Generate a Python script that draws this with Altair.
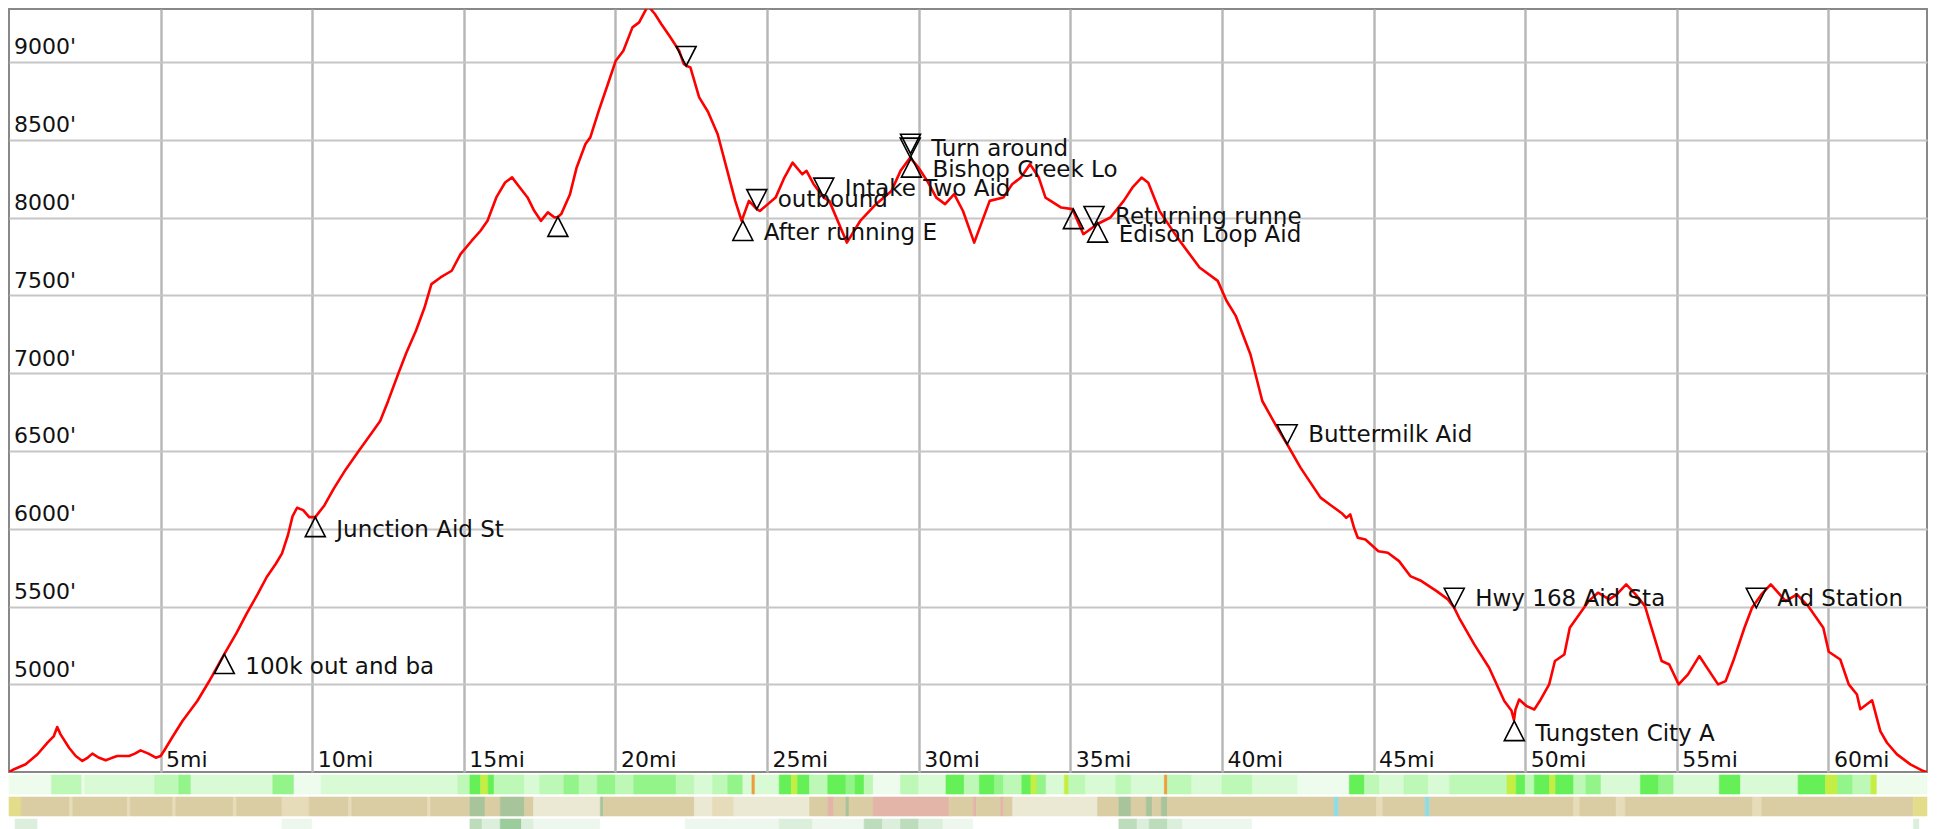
import altair as alt
import pandas as pd

# ---------------- data ----------------
profile_mi = [
    0.0, 0.17, 0.55, 0.94, 1.27, 1.48, 1.59, 1.70, 1.98, 2.20,
    2.42, 2.60, 2.75, 2.95, 3.19, 3.40, 3.57, 3.96, 4.15, 4.34,
    4.60, 4.84, 5.00, 5.11, 5.40, 5.72, 6.21, 6.60, 7.10, 7.50,
    7.85, 8.20, 8.50, 8.80, 9.00, 9.20, 9.35, 9.50, 9.70, 9.90,
    10.10, 10.40, 10.71, 11.10, 11.52, 11.90, 12.24, 12.50, 12.83, 13.10,
    13.42, 13.70, 13.93, 14.23, 14.60, 14.89, 15.26, 15.55, 15.78, 16.07,
    16.36, 16.59, 16.80, 17.10, 17.32, 17.54, 17.77, 17.99, 18.10, 18.21,
    18.50, 18.72, 19.01, 19.17, 19.45, 19.75, 20.01, 20.26, 20.56, 20.78,
    21.07, 21.30, 21.51, 21.81, 22.10, 22.25, 22.35, 22.47, 22.76, 23.05,
    23.37, 23.66, 23.95, 24.16, 24.40, 24.66, 24.76, 25.28, 25.57, 25.84,
    26.16, 26.30, 26.53, 26.87, 27.05, 27.63, 28.07, 28.59, 29.10, 29.40,
    29.72, 29.99, 30.28, 30.58, 30.87, 31.17, 31.46, 31.83, 32.34, 32.79,
    33.08, 33.37, 33.67, 33.96, 34.18, 34.70, 35.07, 35.43, 35.88, 36.32,
    36.76, 37.05, 37.35, 37.57, 37.94, 38.53, 39.26, 39.86, 40.15, 40.45,
    40.94, 41.33, 41.82, 42.15, 42.59, 43.25, 43.60, 43.95, 44.10, 44.23,
    44.35, 44.48, 44.73, 45.16, 45.47, 45.84, 46.21, 46.58, 47.08, 47.45,
    47.66, 47.82, 48.32, 48.81, 49.31, 49.55, 49.63, 49.68, 49.80, 50.05,
    50.30, 50.48, 50.79, 50.98, 51.29, 51.47, 51.78, 52.09, 52.40, 52.77,
    53.02, 53.33, 53.64, 53.95, 54.13, 54.50, 54.75, 55.06, 55.37, 55.74,
    56.36, 56.61, 56.86, 57.23, 57.48, 57.79, 58.10, 58.59, 58.96, 59.33,
    59.83, 60.01, 60.39, 60.67, 60.94, 61.05, 61.44, 61.71, 61.93, 62.26,
    62.70, 63.13, 63.25,
]
profile_ft = [
    4437, 4455, 4487, 4551, 4626, 4668, 4726, 4679, 4593, 4540,
    4508, 4530, 4555, 4530, 4512, 4528, 4540, 4540, 4555, 4576,
    4555, 4529, 4540, 4572, 4665, 4765, 4893, 5020, 5195, 5330,
    5460, 5580, 5690, 5775, 5840, 5960, 6080, 6135, 6120, 6075,
    6075, 6150, 6258, 6380, 6496, 6600, 6693, 6820, 6993, 7130,
    7272, 7420, 7572, 7615, 7658, 7765, 7851, 7915, 7979, 8129,
    8225, 8258, 8204, 8129, 8043, 7979, 8033, 8000, 8004, 8022,
    8150, 8322, 8472, 8515, 8687, 8858, 9008, 9072, 9222, 9254,
    9361, 9308, 9244, 9158, 9072, 8987, 8974, 8965, 8772, 8680,
    8535, 8321, 8107, 7978, 8107, 8054, 8042, 8128, 8257, 8353,
    8278, 8300, 8216, 8128, 8107, 7839, 7978, 8086, 8171, 8300,
    8385, 8321, 8235, 8128, 8086, 8150, 8042, 7839, 8107, 8128,
    8214, 8257, 8343, 8257, 8128, 8064, 8054, 7893, 7957, 8000,
    8107, 8193, 8257, 8224, 8042, 7871, 7679, 7593, 7465, 7370,
    7120, 6821, 6650, 6543, 6393, 6200, 6150, 6100, 6070, 6092,
    6010, 5942, 5931, 5856, 5846, 5792, 5696, 5664, 5599, 5546,
    5492, 5428, 5257, 5107, 4893, 4830, 4770, 4839, 4903, 4860,
    4839, 4893, 5000, 5150, 5192, 5364, 5449, 5535, 5589, 5546,
    5578, 5642, 5578, 5503, 5385, 5150, 5128, 5000, 5064, 5182,
    5000, 5021, 5150, 5364, 5492, 5578, 5642, 5535, 5578, 5503,
    5364, 5210, 5160, 5000, 4935, 4840, 4898, 4700, 4625, 4550,
    4486, 4443, 4437,
]

marker_mi = [7.10, 10.10, 18.10, 24.20, 29.76, 35.10, 35.90, 49.64,
             22.33, 24.66, 26.87, 29.72, 29.73, 35.78, 42.15, 47.66, 57.62]
marker_ft = [5195, 6075, 8004, 7978, 8385, 8054, 7967, 4764,
             8974, 8054, 8128, 8385, 8410, 7946, 6543, 5492, 5492]
marker_dir = ["up"] * 8 + ["down"] * 9
marker_label = ["100k out and ba", "Junction Aid St", "", "After running E",
                "Bishop Creek Lo", "", "Edison Loop Aid", "Tungsten City A",
                "", "outbound", "Intake Two Aid", "Turn around", "",
                "Returning runne", "Buttermilk Aid", "Hwy 168 Aid Sta", "Aid Station"]

x_ticks = [5, 10, 15, 20, 25, 30, 35, 40, 45, 50, 55, 60]
y_ticks = [5000, 5500, 6000, 6500, 7000, 7500, 8000, 8500, 9000]

# strip 1: grade intensity
strip1_edges = [0, 1.4, 2.4, 2.5, 4.8, 5.6, 6.0, 8.7, 9.4, 10.3, 14.8, 15.2, 15.55, 15.8,
                16.0, 17.0, 17.5, 18.3, 18.8, 19.4, 20.0, 20.6, 22.0, 22.6, 23.2, 23.7, 24.2,
                24.5, 24.6, 25.4, 25.8, 26.0, 26.4, 27.0, 27.6, 27.9, 28.2, 28.5, 29.4,
                30.0, 30.9, 31.5, 32.0, 32.5, 32.8, 33.4, 33.7, 33.9, 34.2, 34.8, 34.95,
                35.5, 36.5, 37.0, 38.1, 38.2, 39.0, 40.0, 41.0, 42.5, 44.2, 44.7, 45.2,
                46.0, 46.8, 47.5, 49.4, 49.7, 50.0, 50.3, 50.8, 51.0, 51.6, 52.0, 52.5,
                53.8, 54.4, 54.9, 56.4, 57.1, 59.0, 59.9, 60.3, 60.8, 61.4, 61.6, 63.25]
strip1_codes = [0, 2, 0, 1, 2, 3, 1, 3, 0, 1, 2, 4, 5, 4, 2,
                1,
                2, 3, 2, 3, 2, 3, 2, 1, 2, 3,
                1, 6, 1, 4, 5, 4, 2, 4, 3, 4,
                2, 0, 2, 1, 4, 2, 4, 3, 2, 4,
                5, 3, 1, 5, 2, 1, 2, 1, 6, 2,
                1, 2, 1, 0, 4, 2, 1, 2, 1, 2,
                5, 4, 2, 4, 5, 4, 2, 3, 1, 4,
                3, 1, 4, 1, 4, 5, 3, 2, 5, 0]
strip1_domain = [0, 1, 2, 3, 4, 5, 6]
strip1_colors = ["#edfcec", "#d8fad4", "#bdf8b6", "#93f48a", "#66f057", "#c5ee45", "#ee9d3c"]

# strip 2: surface
strip2_edges = [0, 0.4, 2.0, 2.1, 3.9, 4.0, 5.4, 5.5, 7.4, 7.5, 9.0, 9.9, 11.2, 11.3, 13.8,
                13.9, 15.2, 15.7, 16.2, 17.0, 17.3, 19.5, 19.6, 22.6, 23.2, 23.9, 26.4, 27.0,
                27.2, 27.6, 27.7, 28.5, 31.0, 31.8, 31.9, 32.7, 32.8, 33.1, 35.9, 36.6, 37.0,
                37.5, 37.7, 38.0, 38.2, 43.7, 43.85, 45.1, 45.3, 46.7, 46.85, 51.6, 51.8,
                53.0, 53.3, 57.5, 57.8, 62.8, 63.25]
strip2_codes = ["sand", "trail", "light", "trail", "light", "trail", "light", "trail", "light", "trail",
                "light", "trail", "light", "trail", "light", "trail", "forest", "trail", "forest", "trail",
                "road", "forest", "trail", "road", "light", "road", "trail", "rock", "trail", "forest",
                "trail", "rock", "trail", "rock", "trail", "rock", "trail", "road", "trail", "forest",
                "trail", "forest", "trail", "forest", "trail", "water", "trail", "light", "trail", "water",
                "trail", "light", "trail", "light", "trail", "light", "trail", "sand"]
strip2_domain = ["trail", "light", "road", "rock", "forest", "water", "sand"]
strip2_colors = ["#dbcda3", "#e6dcb9", "#ebe8d4", "#e2b5a8", "#a8c49a", "#90dce6", "#e3dc8a"]

# strip 3: vegetation
strip3_edges = [0, 0.2, 0.95, 9.0, 10.0, 15.2, 15.6, 16.2, 16.9, 17.3, 19.5, 22.3, 25.4, 26.5,
                28.2, 28.8, 29.4, 30.0, 30.8, 31.8, 36.6, 37.2, 37.6, 38.2, 38.7, 41.0, 62.8,
                63.0, 63.25]
strip3_codes = [0, 2, 0, 1, 0, 3, 2, 4, 2, 1,
                0, 1, 2, 1, 3, 2, 3, 2, 1, 0,
                3, 2, 3, 2, 1, 0, 2, 0]
strip3_domain = [0, 1, 2, 3, 4]
strip3_colors = ["#ffffff", "#eef7ee", "#dcefdc", "#bcdcbc", "#9ccc9c"]

# ---------------- chart ----------------
X_DOMAIN = [0, 63.25]
Y_DOMAIN = [4437, 9340]
W = 1918
H = 763
SH = 19
FONT = "DejaVu Sans"

prof = pd.DataFrame({"mi": profile_mi, "ft": profile_ft})
marks = pd.DataFrame({"mi": marker_mi, "ft": marker_ft, "dir": marker_dir, "label": marker_label})

xs = alt.Scale(domain=X_DOMAIN, nice=False, zero=False)
ys = alt.Scale(domain=Y_DOMAIN, nice=False, zero=False)

x_axis = alt.Axis(values=x_ticks, labelExpr="datum.value + 'mi'", grid=True,
                  gridColor="#b8b8b8", gridWidth=2.5, gridOpacity=1, ticks=False, tickSize=0,
                  domain=False, labelAlign="left", labelBaseline="alphabetic",
                  labelPadding=-6, labelOffset=5, labelFont=FONT, labelFontSize=22,
                  labelColor="#111111", labelFlush=False, labelOverlap=False, title=None)
y_axis = alt.Axis(values=y_ticks, labelExpr="datum.value + \"'\"", grid=True,
                  gridColor="#c6c6c6", gridWidth=2, gridOpacity=1, ticks=False, tickSize=0,
                  domain=False, labelAlign="left", labelBaseline="alphabetic",
                  labelPadding=-4.5, labelOffset=-8, labelFont=FONT, labelFontSize=22,
                  labelColor="#111111", labelFlush=False, labelOverlap=False, title=None)

X = alt.X("mi:Q", scale=xs, axis=x_axis)
Y = alt.Y("ft:Q", scale=ys, axis=y_axis)

line = alt.Chart(prof).mark_line(color="#ff0000", strokeWidth=2.6, clip=True,
                                 strokeJoin="round").encode(x=X, y=Y)

up_pts = alt.Chart(marks).transform_filter("datum.dir == 'up'").mark_point(
    shape="M0,-0.975L1,0.975L-1,0.975Z", size=400, filled=False, color="black",
    strokeWidth=1.6, opacity=1, yOffset=9.75).encode(x=X, y=Y)
down_pts = alt.Chart(marks).transform_filter("datum.dir == 'down'").mark_point(
    shape="M-1,-0.975L1,-0.975L0,0.975Z", size=400, filled=False, color="black",
    strokeWidth=1.6, opacity=1, yOffset=-9.75).encode(x=X, y=Y)

up_txt = alt.Chart(marks).transform_filter("datum.dir == 'up'").mark_text(
    align="left", baseline="alphabetic", dx=21, dy=19.5, font=FONT, fontSize=23,
    color="#111111").encode(x=X, y=Y, text="label:N")
down_txt = alt.Chart(marks).transform_filter("datum.dir == 'down'").mark_text(
    align="left", baseline="alphabetic", dx=21, dy=-2, font=FONT, fontSize=23,
    color="#111111").encode(x=X, y=Y, text="label:N")

main = alt.layer(line, up_pts, down_pts, up_txt, down_txt).properties(
    width=W, height=H, view=alt.ViewBackground(stroke="#888888", strokeWidth=2))


def strip(edges, codes, domain, colors):
    df = pd.DataFrame({"start": edges[:-1], "end": edges[1:], "code": codes})
    sc = alt.Scale(domain=domain, range=colors)
    return alt.Chart(df).mark_rect(strokeWidth=0.6).encode(
        x=alt.X("start:Q", scale=xs, axis=None),
        x2="end:Q",
        y=alt.value(0),
        y2=alt.value(SH),
        color=alt.Color("code:N", scale=sc, legend=None),
        stroke=alt.Stroke("code:N", scale=sc, legend=None),
    ).properties(width=W, height=SH)


s1 = strip(strip1_edges, strip1_codes, strip1_domain, strip1_colors)
s2 = strip(strip2_edges, strip2_codes, strip2_domain, strip2_colors)
s3 = strip(strip3_edges, strip3_codes, strip3_domain, strip3_colors)

chart = alt.vconcat(main, s1, s2, s3, spacing=1).properties(
    padding={"left": 0, "top": 0, "right": 0, "bottom": 0}
).resolve_scale(color="independent", stroke="independent").configure_view(stroke="transparent")

chart.save("out.html", embed_options={"renderer": "svg", "actions": False})
